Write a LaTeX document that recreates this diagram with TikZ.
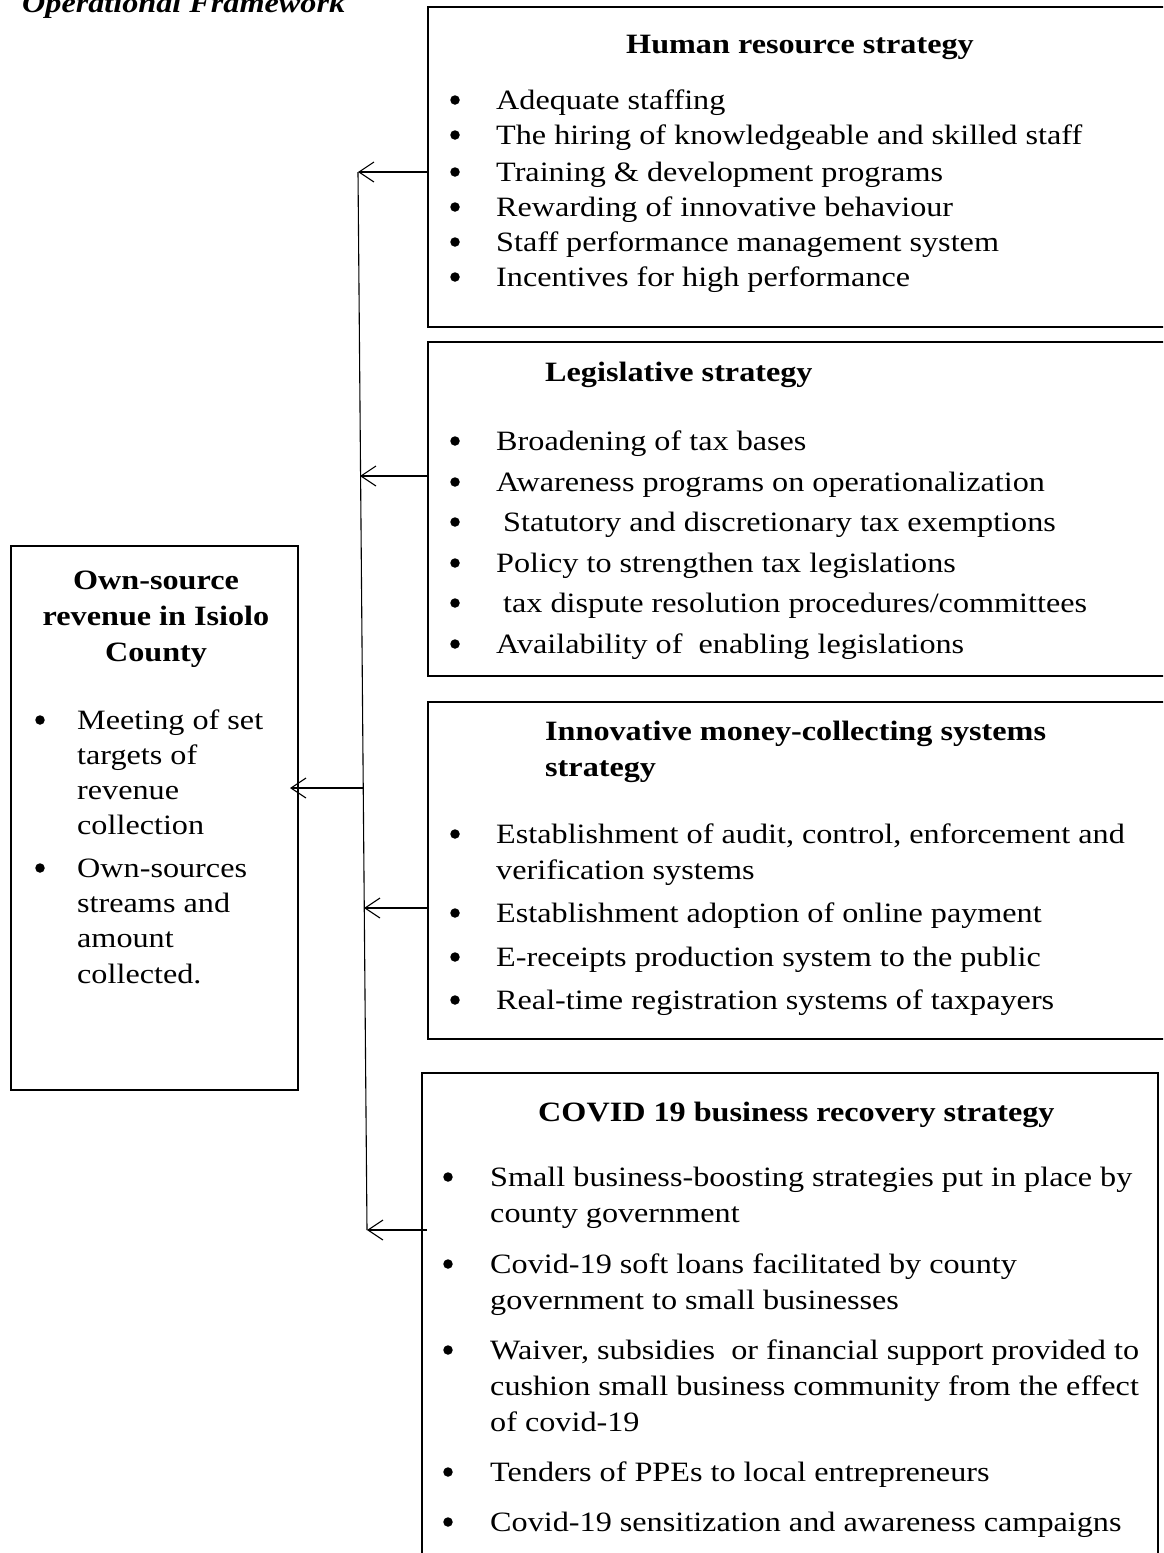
\documentclass[tikz,border=0pt]{standalone}
\usepackage{fontspec}
\setmainfont{Liberation Serif}[FakeStretch=1.15]
\usetikzlibrary{arrows.meta}
\newcommand{\bodyfont}{\fontsize{28}{35.4}\selectfont}
\tikzset{
  boxframe/.style={draw, line width=1.7pt, inner sep=0pt, anchor=north west},
  txt/.style={anchor=base west, inner sep=0pt, font=\bodyfont},
  hd/.style={anchor=base west, inner sep=0pt, font=\bodyfont\bfseries},
  hdc/.style={anchor=base, inner sep=0pt, font=\bodyfont\bfseries},
  bul/.style={circle, fill=black, inner sep=0pt, minimum size=9.5pt},
  conn/.style={line width=1.1pt, -{Straight Barb[length=15pt,width=20pt,line width=1.1pt]}},
  trunk/.style={line width=1.1pt}
}
% name, bullet x, text x, baseline y, text
\newcommand{\bitem}[5]{%
  \node[bul] (#1b) at (#2,{#4-9}) {};
  \node[txt] (#1) at (#3,#4) {#5};}
\newcommand{\cont}[4]{\node[txt] (#1) at (#2,#3) {#4};}
\begin{document}
\begin{tikzpicture}[x=1pt,y=-1pt]
\useasboundingbox (0,0) rectangle (1163,1553);
\clip (0,0) rectangle (1163,1553);
\fill[white] (0,0) rectangle (1163,1553);

% title
\node[anchor=base west, inner sep=0pt, font=\bodyfont\bfseries\itshape] (title) at (22,12) {Operational Framework};

% boxes
\node[boxframe, minimum width=287pt, minimum height=544pt] (osr) at (10,545) {};
\node[boxframe, minimum width=760pt, minimum height=320pt] (hr) at (427,6) {};
\node[boxframe, minimum width=760pt, minimum height=334pt] (leg) at (427,341) {};
\node[boxframe, minimum width=760pt, minimum height=337pt] (inn) at (427,701) {};
\node[boxframe, minimum width=736pt, minimum height=520pt] (cov) at (421,1072) {};

% own-source box
\node[hdc] (osrh1) at (156,589) {Own-source};
\node[hdc] (osrh2) at (156,625) {revenue in Isiolo};
\node[hdc] (osrh3) at (156,661) {County};
\bitem{o1}{40}{77}{729}{Meeting of set}
\cont{o1a}{77}{764}{targets of}
\cont{o1b}{77}{799}{revenue}
\cont{o1c}{77}{834}{collection}
\bitem{o2}{40}{77}{877}{Own-sources}
\cont{o2a}{77}{912}{streams and}
\cont{o2b}{77}{947}{amount}
\cont{o2c}{77}{983}{collected.}

% human resource
\node[hd] (hrh) at (626,53) {Human resource strategy};
\bitem{h1}{455}{496}{109}{Adequate staffing}
\bitem{h2}{455}{496}{144}{The hiring of knowledgeable and skilled staff}
\bitem{h3}{455}{496}{181}{Training \& development programs}
\bitem{h4}{455}{496}{216}{Rewarding of innovative behaviour}
\bitem{h5}{455}{496}{251}{Staff performance management system}
\bitem{h6}{455}{496}{286}{Incentives for high performance}

% legislative
\node[hd] (legh) at (545,381) {Legislative strategy};
\bitem{l1}{455}{496}{450}{Broadening of tax bases}
\bitem{l2}{455}{496}{491}{Awareness programs on operationalization}
\bitem{l3}{455}{503}{531}{Statutory and discretionary tax exemptions}
\bitem{l4}{455}{496}{572}{Policy to strengthen tax legislations}
\bitem{l5}{455}{503}{612}{tax dispute resolution procedures/committees}
\bitem{l6}{455}{496}{653}{Availability of\ \ enabling legislations}

% innovative
\node[hd] (innh1) at (545,740) {Innovative money-collecting systems};
\node[hd] (innh2) at (545,776) {strategy};
\bitem{i1}{455}{496}{843}{Establishment of audit, control, enforcement and}
\cont{i1a}{496}{879}{verification systems}
\bitem{i2}{455}{496}{922}{Establishment adoption of online payment}
\bitem{i3}{455}{496}{966}{E-receipts production system to the public}
\bitem{i4}{455}{496}{1009}{Real-time registration systems of taxpayers}

% covid
\node[hd] (covh) at (538,1121) {COVID 19 business recovery strategy};
\bitem{c1}{448}{490}{1186}{Small business-boosting strategies put in place by}
\cont{c1a}{490}{1222}{county government}
\bitem{c2}{448}{490}{1273}{Covid-19 soft loans facilitated by county}
\cont{c2a}{490}{1309}{government to small businesses}
\bitem{c3}{448}{490}{1359}{Waiver, subsidies\ \ or financial support provided to}
\cont{c3a}{490}{1395}{cushion small business community from the effect}
\cont{c3b}{490}{1431}{of covid-19}
\bitem{c4}{448}{490}{1481}{Tenders of PPEs to local entrepreneurs}
\bitem{c5}{448}{490}{1531}{Covid-19 sensitization and awareness campaigns}

% connectors
\coordinate (thr) at (358,172);
\coordinate (tleg) at (360,476);
\coordinate (tosr) at (364,788);
\coordinate (tinn) at (364,908);
\coordinate (tcov) at (367,1230);
\coordinate (osrtip) at (290,788);
\coordinate (covstart) at (427,1230);
\draw[trunk] (thr) -- (tcov);
\draw[conn] (hr.west |- thr) -- (thr);
\draw[conn] (leg.west |- tleg) -- (tleg);
\draw[conn] (inn.west |- tinn) -- (tinn);
\draw[conn] (covstart) -- (tcov);
\draw[conn] (tosr) -- (osrtip);
\end{tikzpicture}
\end{document}
